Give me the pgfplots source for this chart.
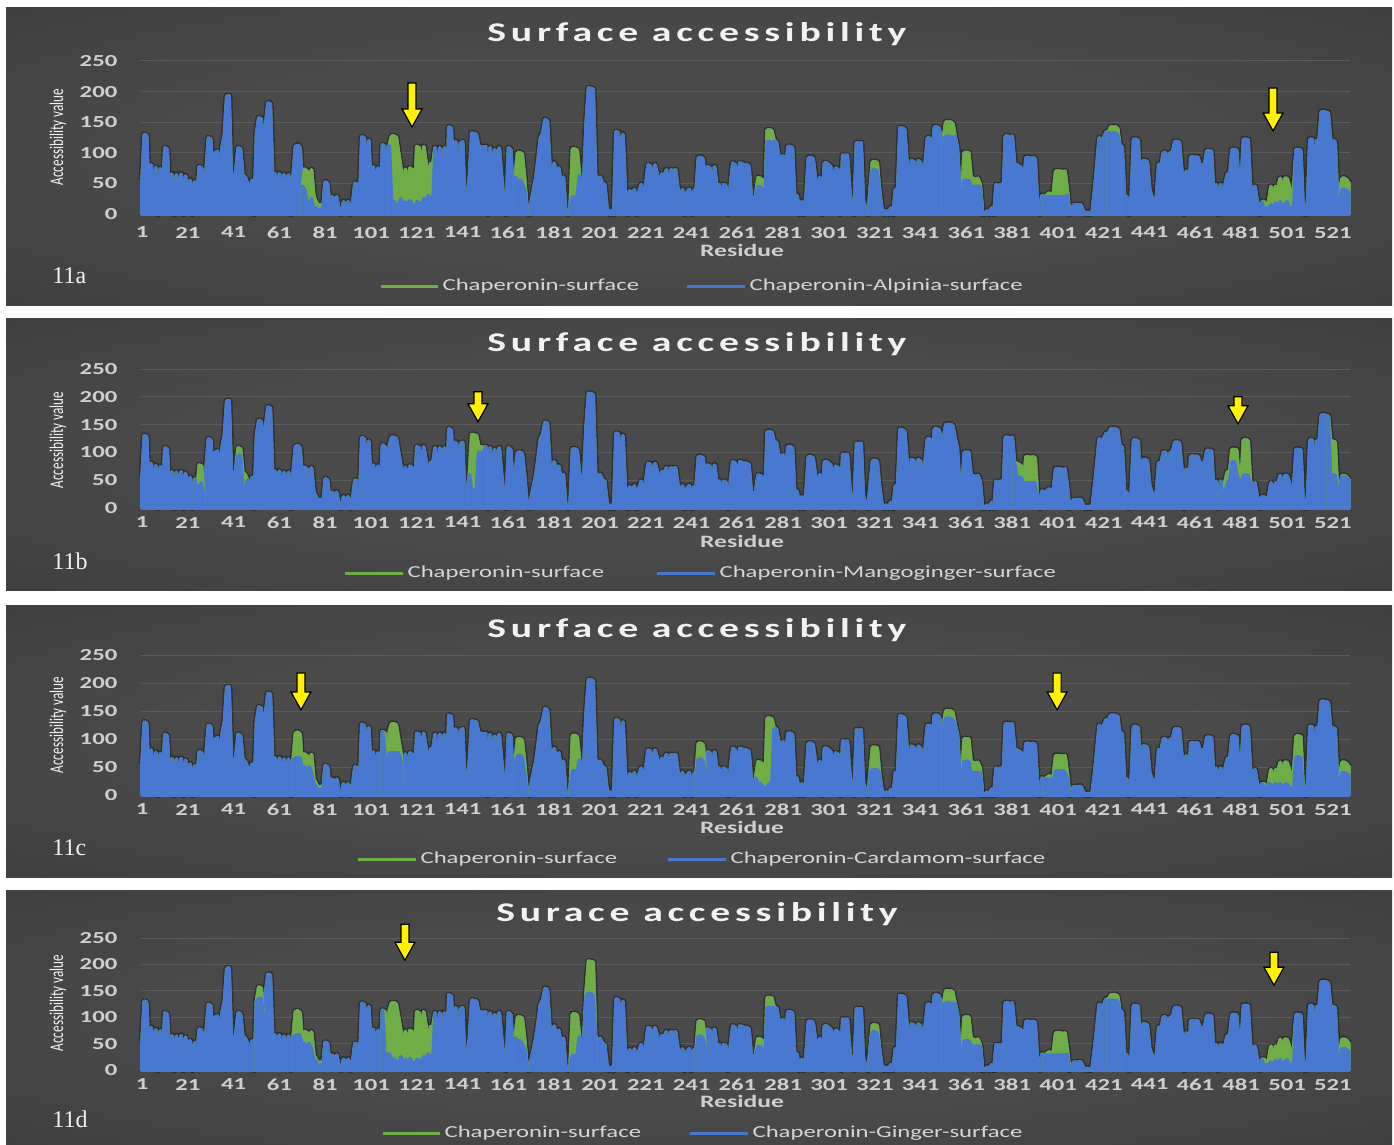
\documentclass[border=0pt]{standalone}
\usepackage{pgfplots}
\usepackage{pgfplotstable}
\pgfplotsset{compat=1.18}
\usepackage{fontspec}
\setmainfont{Carlito}
\newfontfamily\titlefont[LetterSpace=12]{Carlito}
\newfontfamily\serifnum{Liberation Serif}
\definecolor{gcol}{HTML}{70AD47}
\definecolor{bcol}{HTML}{4878CF}
\definecolor{bgin}{HTML}{4A4A4A}
\definecolor{bgout}{HTML}{2A2A2A}
\definecolor{gridc}{HTML}{5C5C5C}
\definecolor{tickc}{HTML}{CFCFCF}
\definecolor{titlec}{HTML}{F2F2F2}
\definecolor{legc}{HTML}{D6D6D6}
\pgfdeclareradialshading{vig}{\pgfpoint{0bp}{0bp}}{color(0bp)=(bgin); color(18bp)=(bgin); color(72bp)=(bgout)}
\usetikzlibrary{calc}

\pgfplotstableread[row sep=\\]{g\\
55\\130\\128\\20\\80\\5\\76\\0\\74\\30\\
108\\105\\15\\65\\0\\64\\10\\65\\0\\62\\
20\\55\\0\\52\\30\\77\\75\\20\\72\\124\\
122\\45\\100\\102\\25\\110\\130\\192\\193\\60\\
45\\70\\108\\106\\63\\60\\50\\20\\55\\0\\
130\\157\\155\\100\\147\\181\\180\\60\\66\\28\\
66\\5\\64\\28\\64\\0\\62\\110\\112\\108\\
45\\73\\70\\55\\72\\28\\20\\12\\15\\5\\
52\\50\\10\\28\\20\\28\\4\\0\\20\\5\\
20\\0\\18\\50\\48\\10\\126\\124\\60\\120\\
40\\77\\20\\75\\10\\113\\110\\30\\112\\127\\
127\\125\\100\\75\\20\\73\\25\\75\\72\\22\\
110\\108\\30\\110\\83\\40\\82\\80\\108\\20\\
108\\30\\108\\25\\142\\140\\60\\118\\10\\115\\
118\\5\\30\\60\\132\\131\\130\\110\\110\\108\\
110\\0\\108\\40\\105\\10\\108\\60\\20\\0\\
108\\105\\30\\60\\100\\100\\98\\60\\10\\0\\
20\\40\\60\\90\\124\\132\\154\\152\\83\\40\\
83\\60\\75\\45\\60\\5\\0\\10\\106\\106\\
104\\63\\20\\63\\150\\206\\205\\204\\65\\50\\
60\\50\\48\\10\\0\\5\\0\\134\\133\\60\\
130\\40\\0\\38\\10\\40\\0\\35\\48\\10\\
48\\80\\78\\40\\80\\65\\30\\65\\62\\72\\
30\\72\\70\\72\\40\\20\\40\\0\\35\\40\\
0\\38\\40\\92\\92\\90\\40\\77\\75\\30\\
77\\45\\48\\10\\48\\45\\0\\48\\83\\80\\
20\\83\\82\\80\\80\\78\\30\\20\\30\\59\\
58\\55\\10\\137\\137\\136\\118\\118\\95\\90\\
95\\30\\110\\110\\108\\25\\30\\0\\20\\0\\
30\\92\\92\\90\\60\\20\\60\\0\\83\\83\\
80\\75\\30\\75\\72\\0\\96\\95\\96\\40\\
5\\0\\116\\115\\116\\20\\10\\0\\40\\85\\
85\\84\\40\\10\\0\\5\\0\\10\\0\\40\\
40\\141\\140\\138\\87\\30\\87\\85\\20\\87\\
83\\20\\83\\124\\124\\80\\142\\142\\140\\124\\
124\\150\\150\\150\\148\\126\\108\\40\\20\\100\\
100\\100\\58\\58\\56\\58\\48\\0\\0\\5\\
0\\10\\0\\48\\45\\48\\20\\127\\127\\125\\
127\\81\\80\\78\\75\\40\\92\\92\\90\\92\\
90\\20\\0\\30\\28\\30\\34\\32\\34\\70\\
70\\70\\68\\70\\40\\0\\10\\15\\14\\15\\
15\\5\\0\\3\\0\\5\\40\\80\\124\\120\\
124\\134\\132\\142\\142\\142\\140\\110\\110\\30\\
28\\0\\28\\122\\122\\120\\30\\87\\87\\85\\
40\\28\\20\\28\\81\\77\\100\\100\\40\\100\\
100\\118\\118\\117\\72\\0\\70\\20\\93\\93\\
92\\93\\80\\80\\80\\103\\103\\102\\30\\48\\
0\\48\\20\\48\\65\\64\\105\\105\\104\\48\\
48\\122\\122\\121\\45\\40\\45\\20\\0\\20\\
20\\12\\20\\45\\15\\45\\40\\58\\20\\58\\
58\\45\\15\\45\\105\\105\\104\\10\\0\\20\\
122\\122\\40\\120\\118\\167\\167\\166\\165\\120\\
120\\118\\30\\28\\58\\58\\56\\50\\
}\G

\pgfplotsset{
  gstyle/.style={draw=gcol, fill=gcol, line width=1.8pt, line join=round, mark=none},
  bstyle/.style={draw=bcol, fill=bcol, line width=1.8pt, line join=round, mark=none},
  shadowstyle/.style={draw=black, fill=none, line width=3.4pt, line join=round, opacity=0.35, mark=none, forget plot},
  panel/.style={
    scale only axis, width=604.55pt,
    xmin=0.5, xmax=528.5, ymin=0, ymax=250,
    xtick={1,21,...,521}, ytick={0,50,...,250},
    axis line style={draw=none}, major tick length=0pt,
    ymajorgrids, grid style={gridc, line width=0.5pt},
    clip=false,
    /pgf/number format/assume math mode=true,
    tick label style={font=\bfseries\fontsize{8.4}{9}\selectfont, text=tickc, xscale=1.47},
    yticklabel style={xshift=-4.5pt},
    xticklabel style={yshift=-1pt},
  }
}
\newcommand{\fullplots}{%
  \addplot[shadowstyle] table[x expr=\coordindex+1, y=g]{\G};
  \addplot[gstyle] table[x expr=\coordindex+1, y=g]{\G} \closedcycle;
  \addplot[bstyle] table[x expr=\coordindex+1, y=g]{\G} \closedcycle;}
\newcommand{\patch}[3]{%
  \addplot[gstyle, restrict x to domain=#1:#2] table[x expr=\coordindex+1, y=g]{\G} \closedcycle;
  \addplot[bstyle] coordinates {#3} \closedcycle;}
\newcommand{\yarrow}[3]{%
  \draw[fill=yellow, draw=black, line width=0.6pt, line join=miter]
    (axis cs:#1,#2) ++(-2pt,0pt) -- ++(4pt,0pt) -- ++(0pt,-#3) -- ++(3pt,0pt)
    -- ++(-5pt,-9pt) -- ++(-5pt,9pt) -- ++(3pt,0pt) -- cycle;}
\newcommand{\paneltext}[8]{% ytop ybot title ytitle ylabely residuey legy tag
  \shade[shading=vig] (3pt,#1) rectangle (696pt,#2);
  \node[text=titlec, xscale=1.47] at (348.5pt,#4) {\titlefont\bfseries\fontsize{13.5}{15}\selectfont #3};
  \node[text=titlec] at (29pt,#5) {\rotatebox{90}{\scalebox{1}[1.47]{\fontsize{6.6}{7}\selectfont Accessibility value}}};
  \node[text=tickc, xscale=1.47] at (371pt,#6) {\bfseries\fontsize{8.7}{10}\selectfont Residue};
  \node[anchor=west, text=titlec, inner sep=0pt] at (26pt,#7) {\serifnum\fontsize{12}{14}\selectfont #8};}
\newcommand{\legendrow}[6]{% y, gx1, gx2, bx1, bx2, name
  \draw[gcol, line width=1.5pt] (#2,#1) -- (#3,#1);
  \node[anchor=west, text=legc, xscale=1.47, inner sep=0pt] at ($(#3,#1)+(2pt,0)$) {\fontsize{8.4}{10}\selectfont Chaperonin-surface};
  \draw[bcol, line width=1.5pt] (#4,#1) -- (#5,#1);
  \node[anchor=west, text=legc, xscale=1.47, inner sep=0pt] at ($(#5,#1)+(2pt,0)$) {\fontsize{8.4}{10}\selectfont #6};}

\begin{document}
\begin{tikzpicture}
\fill[white] (0pt,0pt) rectangle (697pt,-572.5pt);

% ---------- panel a ----------
\paneltext{-4pt}{-152.5pt}{Surface accessibility}{-17pt}{-68.5pt}{-125pt}{-138pt}{11a}
\legendrow{-143pt}{190.5pt}{219pt}{343.5pt}{372.5pt}{Chaperonin-Alpinia-surface}
\begin{axis}[panel, height=76.5pt, at={(70.45pt,-107pt)}, anchor=south west, xticklabel style={yshift=-2pt}]
\fullplots
\patch{71}{81}{(71,45)(72,40)(73,20)(74,10)(75,25)(76,5)(77,10)(78,5)(79,8)(80,0)(81,52)}
\patch{109}{129}{(109,112)(110,20)(111,20)(112,15)(113,10)(114,25)(115,5)(116,20)(117,10)(118,22)(119,15)(120,5)(121,20)(122,18)(123,10)(124,25)(125,20)(126,30)(127,25)(128,20)(129,108)}
\patch{164}{169}{(164,60)(165,55)(166,55)(167,50)(168,40)(169,10)}
\patch{188}{192}{(188,10)(189,28)(190,25)(191,30)(192,63)}
\patch{269}{277}{(269,30)(270,45)(271,44)(272,40)(273,10)(274,118)(275,118)(276,117)(277,118)}
\patch{319}{323}{(319,40)(320,72)(321,72)(322,70)(323,40)}
\patch{351}{368}{(351,124)(352,127)(353,127)(354,126)(355,125)(356,126)(357,108)(358,40)(359,20)(360,55)(361,55)(362,55)(363,45)(364,45)(365,45)(366,45)(367,45)(368,0)}
\patch{395}{406}{(395,28)(396,28)(397,28)(398,28)(399,28)(400,28)(401,28)(402,28)(403,28)(404,28)(405,30)(406,0)}
\patch{423}{428}{(423,132)(424,132)(425,132)(426,132)(427,130)(428,110)}
\patch{490}{505}{(490,20)(491,5)(492,10)(493,8)(494,15)(495,5)(496,18)(497,12)(498,20)(499,8)(500,15)(501,20)(502,10)(503,5)(504,15)(505,105)}
\patch{524}{528}{(524,28)(525,40)(526,40)(527,38)(528,35)}
\yarrow{118.9}{214}{13pt}
\yarrow{494.9}{206}{12.5pt}
\end{axis}

% ---------- panel b ----------
\paneltext{-159pt}{-295pt}{Surface accessibility}{-172pt}{-220pt}{-270.5pt}{-280.5pt}{11b}
\legendrow{-286.5pt}{172.5pt}{201.5pt}{328.5pt}{357.5pt}{Chaperonin-Mangoginger-surface}
\begin{axis}[panel, height=69.5pt, at={(70.45pt,-254pt)}, anchor=south west]
\fullplots
\patch{24}{28}{(24,52)(25,30)(26,40)(27,45)(28,20)}
\patch{42}{47}{(42,70)(43,95)(44,95)(45,30)(46,30)(47,50)}
\patch{144}{151}{(144,60)(145,25)(146,30)(147,35)(148,100)(149,100)(150,98)(151,110)}
\patch{382}{392}{(382,81)(383,55)(384,55)(385,55)(386,40)(387,45)(388,45)(389,45)(390,45)(391,45)(392,20)}
\patch{472}{487}{(472,48)(473,10)(474,30)(475,45)(476,50)(477,83)(478,83)(479,60)(480,48)(481,45)(482,59)(483,59)(484,59)(485,40)(486,40)(487,45)}
\patch{519}{528}{(519,165)(520,59)(521,59)(522,59)(523,30)(524,28)(525,56)(526,56)(527,55)(528,50)}
\yarrow{147.7}{209}{6pt}
\yarrow{479.6}{200}{4.5pt}
\end{axis}

% ---------- panel c ----------
\paneltext{-302.5pt}{-438.5pt}{Surface accessibility}{-315pt}{-362.5pt}{-413.5pt}{-424pt}{11c}
\legendrow{-429.5pt}{179pt}{208pt}{334pt}{363pt}{Chaperonin-Cardamom-surface}
\begin{axis}[panel, height=70pt, at={(70.45pt,-397.5pt)}, anchor=south west]
\fullplots
\patch{67}{81}{(67,62)(68,66)(69,66)(70,66)(71,45)(72,50)(73,45)(74,50)(75,40)(76,20)(77,15)(78,5)(79,10)(80,0)(81,52)}
\patch{106}{115}{(106,113)(107,75)(108,30)(109,75)(110,75)(111,75)(112,75)(113,75)(114,60)(115,20)}
\patch{164}{169}{(164,60)(165,70)(166,70)(167,68)(168,40)(169,10)}
\patch{188}{192}{(188,10)(189,43)(190,43)(191,40)(192,63)}
\patch{243}{247}{(243,40)(244,64)(245,64)(246,60)(247,40)}
\patch{269}{277}{(269,30)(270,20)(271,20)(272,15)(273,10)(274,15)(275,20)(276,15)(277,118)}
\patch{319}{323}{(319,40)(320,45)(321,45)(322,45)(323,40)}
\patch{351}{368}{(351,124)(352,137)(353,137)(354,136)(355,135)(356,126)(357,108)(358,40)(359,20)(360,60)(361,60)(362,60)(363,40)(364,40)(365,40)(366,40)(367,40)(368,0)}
\patch{395}{406}{(395,28)(396,28)(397,28)(398,28)(399,28)(400,43)(401,43)(402,43)(403,43)(404,40)(405,30)(406,0)}
\patch{490}{508}{(490,20)(491,15)(492,10)(493,20)(494,18)(495,10)(496,20)(497,15)(498,20)(499,10)(500,18)(501,20)(502,12)(503,8)(504,15)(505,68)(506,68)(507,66)(508,10)}
\patch{524}{528}{(524,28)(525,40)(526,40)(527,38)(528,35)}
\yarrow{70.4}{218}{9.5pt}
\yarrow{400.6}{218}{9.5pt}
\end{axis}

% ---------- panel d ----------
\paneltext{-445pt}{-572.5pt}{Surace accessibility}{-457pt}{-501.5pt}{-550.5pt}{-559.5pt}{11d}
\legendrow{-566.5pt}{191.5pt}{220pt}{345pt}{374pt}{Chaperonin-Ginger-surface}
\begin{axis}[panel, height=66pt, at={(70.45pt,-535pt)}, anchor=south west]
\fullplots
\patch{51}{54}{(51,130)(52,135)(53,135)(54,100)}
\patch{67}{81}{(67,62)(68,66)(69,66)(70,66)(71,45)(72,50)(73,45)(74,50)(75,40)(76,20)(77,15)(78,5)(79,10)(80,0)(81,52)}
\patch{106}{129}{(106,113)(107,30)(108,30)(109,30)(110,20)(111,20)(112,15)(113,10)(114,25)(115,5)(116,20)(117,10)(118,22)(119,15)(120,5)(121,20)(122,18)(123,10)(124,25)(125,20)(126,30)(127,25)(128,20)(129,108)}
\patch{164}{169}{(164,60)(165,55)(166,55)(167,50)(168,40)(169,10)}
\patch{188}{199}{(188,10)(189,28)(190,25)(191,30)(192,63)(193,20)(194,63)(195,140)(196,145)(197,145)(198,140)(199,65)}
\patch{243}{247}{(243,40)(244,64)(245,64)(246,60)(247,40)}
\patch{269}{277}{(269,30)(270,45)(271,44)(272,40)(273,10)(274,118)(275,118)(276,117)(277,118)}
\patch{319}{323}{(319,40)(320,72)(321,72)(322,70)(323,40)}
\patch{351}{368}{(351,124)(352,127)(353,127)(354,126)(355,125)(356,126)(357,108)(358,40)(359,20)(360,55)(361,55)(362,55)(363,45)(364,45)(365,45)(366,45)(367,45)(368,0)}
\patch{395}{406}{(395,28)(396,28)(397,28)(398,28)(399,28)(400,28)(401,28)(402,28)(403,28)(404,28)(405,30)(406,0)}
\patch{423}{428}{(423,132)(424,132)(425,132)(426,132)(427,130)(428,110)}
\patch{490}{505}{(490,20)(491,5)(492,10)(493,8)(494,15)(495,5)(496,18)(497,12)(498,20)(499,8)(500,15)(501,20)(502,10)(503,5)(504,15)(505,105)}
\patch{524}{528}{(524,28)(525,40)(526,40)(527,38)(528,35)}
\yarrow{115.8}{276}{9pt}
\yarrow{495.3}{223}{7.5pt}
\end{axis}

\pgfresetboundingbox
\useasboundingbox (0pt,0pt) rectangle (697pt,-572.5pt);
\end{tikzpicture}
\end{document}
